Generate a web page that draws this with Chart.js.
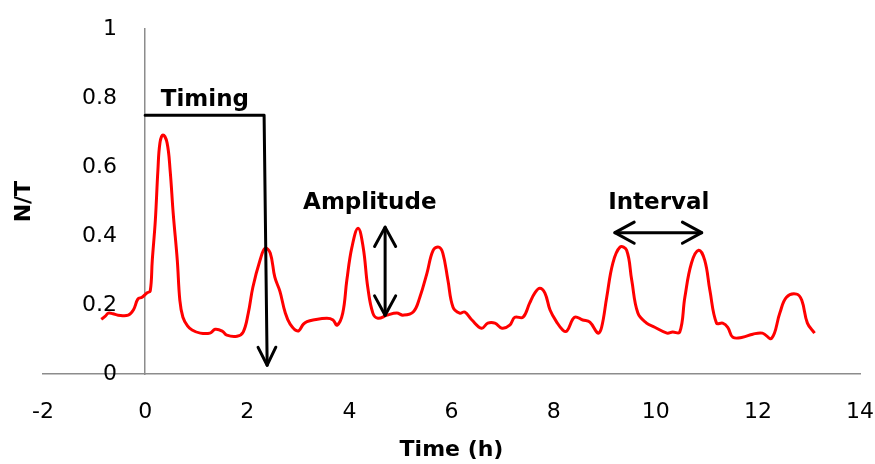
<!DOCTYPE html>
<html>
<head>
<meta charset="utf-8">
<script src="https://cdn.jsdelivr.net/npm/chart.js@4.4.1/dist/chart.umd.min.js"></script>
<style>
  html, body { margin: 0; padding: 0; background: #fff; }
  canvas { display: block; }
</style>
</head>
<body>
<canvas id="chart" width="875" height="464"></canvas>
<script>
// N/T ratio over time
var timeH = [-0.86, -0.78, -0.72, -0.63, -0.53, -0.33, -0.23, -0.14, -0.06, 0.04,
  0.10, 0.14, 0.20, 0.25, 0.29, 0.35, 0.43, 0.49, 0.55, 0.63,
  0.68, 0.74, 0.83, 0.92, 1.08, 1.27, 1.37, 1.51, 1.60, 1.80,
  1.92, 2.02, 2.11, 2.25, 2.35, 2.45, 2.54, 2.64, 2.74, 2.84,
  2.99, 3.10, 3.17, 3.29, 3.56, 3.68, 3.76, 3.87, 3.95, 4.05,
  4.17, 4.27, 4.36, 4.46, 4.56, 4.74, 4.93, 5.05, 5.25, 5.38,
  5.52, 5.64, 5.75, 5.83, 5.93, 6.03, 6.16, 6.26, 6.40, 6.59,
  6.71, 6.85, 6.99, 7.14, 7.24, 7.40, 7.53, 7.63, 7.73, 7.83,
  7.93, 8.06, 8.18, 8.26, 8.41, 8.57, 8.71, 8.87, 8.94, 9.04,
  9.16, 9.30, 9.43, 9.53, 9.65, 9.82, 9.98, 10.22, 10.33, 10.47,
  10.57, 10.70, 10.84, 10.96, 11.06, 11.19, 11.31, 11.41, 11.51, 11.70,
  11.90, 12.09, 12.27, 12.43, 12.56, 12.76, 12.86, 12.97, 13.11];
var ratioNT = [0.159, 0.168, 0.177, 0.175, 0.171, 0.171, 0.186, 0.218, 0.223, 0.236,
  0.241, 0.33, 0.446, 0.59, 0.67, 0.693, 0.67, 0.59, 0.466, 0.33,
  0.214, 0.165, 0.140, 0.128, 0.119, 0.119, 0.130, 0.125, 0.113, 0.110,
  0.122, 0.177, 0.252, 0.33, 0.365, 0.351, 0.281, 0.24, 0.18, 0.145,
  0.125, 0.145, 0.152, 0.157, 0.162, 0.157, 0.142, 0.177, 0.272, 0.368,
  0.423, 0.368, 0.252, 0.177, 0.162, 0.171, 0.177, 0.171, 0.18, 0.223,
  0.293, 0.359, 0.368, 0.351, 0.272, 0.194, 0.177, 0.18, 0.157, 0.133,
  0.148, 0.148, 0.133, 0.142, 0.165, 0.165, 0.206, 0.235, 0.249, 0.235,
  0.186, 0.151, 0.128, 0.125, 0.165, 0.157, 0.151, 0.119, 0.136, 0.223,
  0.322, 0.368, 0.359, 0.272, 0.177, 0.148, 0.136, 0.119, 0.122, 0.122,
  0.223, 0.322, 0.359, 0.330, 0.243, 0.148, 0.148, 0.136, 0.107, 0.107,
  0.116, 0.119, 0.104, 0.177, 0.223, 0.232, 0.214, 0.148, 0.119];

var xTicks = [-2, 0, 2, 4, 6, 8, 10, 12, 14];
var yTickLabels = ['0', '0.2', '0.4', '0.6', '0.8', '1'];
var noteLabels = ['Timing', 'Amplitude', 'Interval'];

var points = timeH.map(function (t, i) { return {x: t, y: ratioNT[i]}; });

var FONT = "'DejaVu Sans'";
var AXIS_GREY = '#8c8c8c';

// arrows + labels drawn on top, placed in data units
var notesPlugin = {
  id: 'notes',
  afterDatasetsDraw: function (chart) {
    var ctx = chart.ctx;
    var sx = chart.scales.x, sy = chart.scales.y;
    function px(v) { return sx.getPixelForValue(v); }
    function py(v) { return sy.getPixelForValue(v); }
    function head(x1, y1, x2, y2, len, ang) {
      var a = Math.atan2(y2 - y1, x2 - x1);
      ctx.beginPath();
      ctx.moveTo(x2 - len * Math.cos(a - ang), y2 - len * Math.sin(a - ang));
      ctx.lineTo(x2, y2);
      ctx.lineTo(x2 - len * Math.cos(a + ang), y2 - len * Math.sin(a + ang));
      ctx.stroke();
    }
    function dbl(x1, y1, x2, y2) {
      ctx.beginPath();
      ctx.moveTo(x1, y1);
      ctx.lineTo(x2, y2);
      ctx.stroke();
      head(x1, y1, x2, y2, 22, 0.5);
      head(x2, y2, x1, y1, 22, 0.5);
    }

    ctx.save();
    ctx.strokeStyle = '#000';
    ctx.lineWidth = 3;
    ctx.lineJoin = 'round';
    ctx.lineCap = 'round';

    // timing bracket
    ctx.beginPath();
    ctx.moveTo(px(0), py(0.75));
    ctx.lineTo(px(2.33), py(0.75));
    ctx.lineTo(px(2.39), py(0.026));
    ctx.stroke();
    head(px(2.33), py(0.75), px(2.39), py(0.026), 20, 0.46);

    // amplitude
    dbl(px(4.7), py(0.426), px(4.7), py(0.171));
    // interval
    dbl(px(9.2), py(0.41), px(10.9), py(0.41));

    ctx.fillStyle = '#000';
    ctx.font = 'bold 23px ' + FONT;
    ctx.textAlign = 'center';
    ctx.textBaseline = 'middle';
    ctx.fillText(noteLabels[0], px(1.17), py(0.794));
    ctx.fillText(noteLabels[1], px(4.40), py(0.496));
    ctx.fillText(noteLabels[2], px(10.06), py(0.496));
    ctx.restore();
  }
};

new Chart(document.getElementById('chart'), {
  type: 'scatter',
  data: {
    datasets: [{
      data: points,
      showLine: true,
      borderColor: '#ff0000',
      borderWidth: 3,
      pointRadius: 0,
      tension: 0.4
    }]
  },
  options: {
    responsive: false,
    animation: false,
    layout: { padding: { left: 9, right: 15, top: 29, bottom: 0 } },
    plugins: { legend: { display: false }, tooltip: { enabled: false } },
    scales: {
      x: {
        type: 'linear',
        position: 'bottom',
        min: -2,
        max: 14,
        afterBuildTicks: function (s) { s.ticks = xTicks.map(function (v) { return {value: v}; }); },
        // invisible tick marks push the labels down without widening the side padding
        grid: { display: true, drawOnChartArea: false, drawTicks: true, tickLength: 25, tickColor: 'rgba(0,0,0,0)' },
        border: { display: true, color: AXIS_GREY, width: 1.5 },
        ticks: { padding: 0, color: '#000', font: { family: FONT, size: 22 } },
        title: { display: true, text: 'Time (h)', color: '#000', padding: { top: 11, bottom: 1 },
          font: { family: FONT, size: 22, weight: 'bold' } }
      },
      // axis line crossing at x = 0
      y: {
        type: 'linear',
        position: { x: 0 },
        min: 0,
        max: 1,
        ticks: { display: false },
        grid: { display: false, drawTicks: false },
        border: { display: true, color: AXIS_GREY, width: 1.5 }
      },
      // tick labels sit a little left of the crossing line
      yLabels: {
        type: 'linear',
        axis: 'y',
        position: { x: -0.55 },
        min: 0,
        max: 1,
        ticks: { stepSize: 0.2, color: '#000', font: { family: FONT, size: 22 },
          callback: function (v, i) { return yTickLabels[i]; } },
        grid: { display: false, drawTicks: false },
        border: { display: false }
      },
      yTitle: {
        type: 'linear',
        axis: 'y',
        position: 'left',
        min: 0,
        max: 1,
        ticks: { display: false },
        grid: { display: false, drawTicks: false },
        border: { display: false },
        title: { display: true, text: 'N/T', color: '#000', padding: { top: 2, bottom: 5.6 },
          font: { family: FONT, size: 22, weight: 'bold' } }
      }
    }
  },
  plugins: [notesPlugin]
});
</script>
</body>
</html>
